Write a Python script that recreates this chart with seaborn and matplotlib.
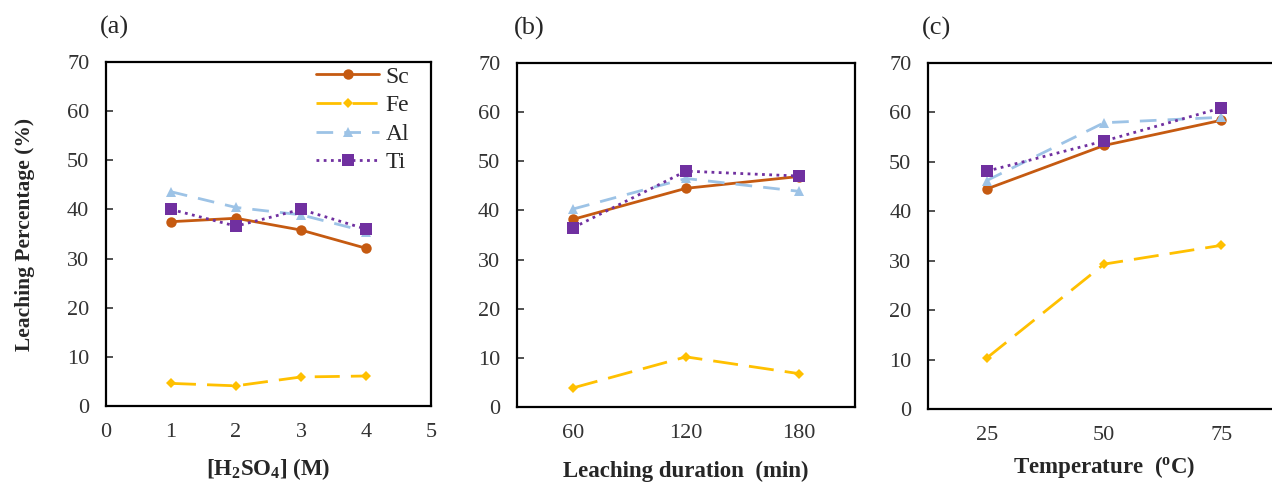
import numpy as np
import pandas as pd
import seaborn as sns
import matplotlib.pyplot as plt

elements = ["Sc", "Fe", "Al", "Ti"]

# (a) acid concentration, M
acid_conc = [1, 2, 3, 4]
sc_acid = [37.5, 38.2, 35.8, 32.1]
fe_acid = [4.6, 4.1, 5.9, 6.1]
al_acid = [43.6, 40.4, 38.9, 35.5]
ti_acid = [40.0, 36.6, 40.0, 36.0]

# (b) leaching duration, min
durations = ["60", "120", "180"]
sc_time = [38.2, 44.5, 46.9]
fe_time = [3.9, 10.2, 6.8]
al_time = [40.3, 46.5, 43.9]
ti_time = [36.5, 48.0, 47.0]

# (c) temperature, oC
temps = ["25", "50", "75"]
sc_temp = [44.5, 53.3, 58.4]
fe_temp = [10.3, 29.3, 33.1]
al_temp = [46.2, 57.9, 59.0]
ti_temp = [48.1, 54.2, 60.9]

colors = {"Sc": "#C55A11", "Fe": "#FFC000", "Al": "#9DC3E6", "Ti": "#7030A0"}
markers = {"Sc": "o", "Fe": "D", "Al": "^", "Ti": "s"}
dashes = {"Sc": "", "Fe": (9, 4), "Al": (6, 4), "Ti": (1, 1.6)}
msize = {"Sc": 7.5, "Fe": 5.5, "Al": 7.5, "Ti": 8}


def long_df(x, series):
    rows = []
    for el, vals in zip(elements, series):
        for xi, v in zip(x, vals):
            rows.append({"x": xi, "value": v, "element": el})
    return pd.DataFrame(rows)


sns.set_style("ticks")
plt.rcParams["font.family"] = ["Liberation Serif", "DejaVu Serif"]
plt.rcParams["mathtext.fontset"] = "custom"
plt.rcParams["mathtext.rm"] = "Liberation Serif"
plt.rcParams["mathtext.bf"] = "Liberation Serif:bold"

fig = plt.figure(figsize=(12.72, 4.84), dpi=100)
ax_a = fig.add_axes([0.0833, 0.1612, 0.2555, 0.7107])
ax_b = fig.add_axes([0.4064, 0.1591, 0.2657, 0.7107])
ax_c = fig.add_axes([0.7296, 0.1550, 0.2767, 0.7150])

panels = [
    (ax_a, long_df(acid_conc, [sc_acid, fe_acid, al_acid, ti_acid]), r"[H$\mathbf{_2}$SO$\mathbf{_4}$] (M)", "(a)", -0.018, 63),
    (ax_b, long_df(durations, [sc_time, fe_time, al_time, ti_time]), "Leaching duration  (min)", "(b)", -0.009, 64),
    (ax_c, long_df(temps, [sc_temp, fe_temp, al_temp, ti_temp]), r"Temperature  ($\mathbf{^o}$C)", "(c)", -0.017, 58),
]

for i, (ax, df, xlabel, tag, tag_x, lab_off) in enumerate(panels):
    sns.lineplot(data=df, x="x", y="value", hue="element", style="element",
                 palette=colors, markers=markers, dashes=dashes,
                 linewidth=2, markeredgewidth=0, legend=(i == 0), ax=ax)
    for line, el in zip(ax.lines, elements):
        line.set_markersize(msize[el])
    ax.set_ylim(0, 70)
    ax.set_yticks(range(0, 71, 10))
    ax.set_xlabel(xlabel, fontsize=16.5, fontweight="bold", va="center")
    h_px = ax.get_position().height * 484
    ax.xaxis.set_label_coords(0.5, -lab_off / h_px)
    ax.set_ylabel("")
    ax.tick_params(axis="y", direction="in", length=5, width=1.2, pad=12, labelsize=16, colors="#333333")
    ax.tick_params(axis="x", length=0, pad=12, labelsize=16, colors="#333333")
    for sp in ax.spines.values():
        sp.set_linewidth(1.6)
        sp.set_color("black")
    ax.text(tag_x, 1.10, tag, transform=ax.transAxes, fontsize=19, va="center", ha="left")

ax_a.set_xlim(0, 5)
ax_a.set_xticks(range(0, 6))
ax_b.set_xlim(-0.5, 2.5)
ax_c.set_xlim(-0.5, 2.5)

ax_a.set_ylabel("Leaching Percentage (%)", fontsize=15.5, fontweight="bold", va="center")
ax_a.yaxis.set_label_coords(-0.25, 0.5)

leg = ax_a.legend(loc="upper right", bbox_to_anchor=(0.94, 0.995), frameon=False, fontsize=17,
                  handlelength=2.7, handletextpad=0.25, labelspacing=0.3,
                  borderaxespad=0, borderpad=0.1)
for h, el in zip(leg.legend_handles, elements):
    h.set_markersize(msize[el])

fig.savefig("out.png", dpi=100)
